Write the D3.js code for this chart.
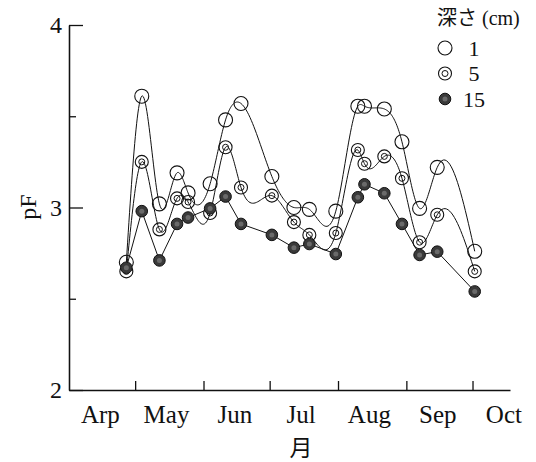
<!DOCTYPE html>
<html>
<head>
<meta charset="utf-8">
<script src="https://cdn.jsdelivr.net/npm/d3@7"></script>
<style>
body { margin: 0; background: #fff; }
text { font-family: "Liberation Serif", "Times New Roman", serif; fill: #111; }
</style>
</head>
<body>
<svg id="chart" width="536" height="462"></svg>
<script>
// 観測日
const dates = ["2000-04-27", "2000-05-04", "2000-05-12", "2000-05-20", "2000-05-25",
    "2000-06-04", "2000-06-11", "2000-06-18", "2000-07-02", "2000-07-12", "2000-07-19",
    "2000-07-31", "2000-08-10", "2000-08-13", "2000-08-22", "2000-08-30", "2000-09-07",
    "2000-09-15", "2000-10-02"];

// 深さ別のpF値
const depth1 = [2.70, 3.61, 3.02, 3.19, 3.08, 3.13, 3.48, 3.57, 3.17, 3.00, 2.99,
    2.98, 3.555, 3.555, 3.54, 3.36, 2.995, 3.22, 2.76];
const depth5 = [2.65, 3.25, 2.88, 3.05, 3.03, 2.97, 3.33, 3.11, 3.065, 2.92, 2.85,
    2.86, 3.315, 3.24, 3.28, 3.16, 2.81, 2.96, 2.65];
const depth15 = [2.67, 2.98, 2.71, 2.91, 2.945, 2.995, 3.06, 2.91, 2.85, 2.78, 2.80,
    2.745, 3.056, 3.127, 3.078, 2.91, 2.74, 2.758, 2.54];

const monthLabels = ["Arp", "May", "Jun", "Jul", "Aug", "Sep", "Oct"];
const yTicks = [2, 3, 4];
const yMinorTicks = [2.5, 3.5];
const legendLabels = ["1", "5", "15"];

const parse = d3.timeParse("%Y-%m-%d");
const start = new Date(2000, 3, 1);

let svg = d3.select("#chart");

let x = d3.scaleTime()
    .domain([start, new Date(2000, 9, 18)])
    .range([69, 510]);

let y = d3.scaleLinear()
    .domain([2, 4])
    .range([390, 25]);

// 自然3次スプライン (y を x の関数として)
function naturalSpline(xs, ys) {
    let n = xs.length;
    let h = [], a = [], b = [], c = [], r = [];
    for (let i = 0; i < n - 1; i++) h.push(xs[i + 1] - xs[i]);
    let M = new Array(n).fill(0);
    // 三重対角
    for (let i = 1; i < n - 1; i++) {
        a[i] = h[i - 1];
        b[i] = 2 * (h[i - 1] + h[i]);
        c[i] = h[i];
        r[i] = 6 * ((ys[i + 1] - ys[i]) / h[i] - (ys[i] - ys[i - 1]) / h[i - 1]);
    }
    for (let i = 2; i < n - 1; i++) {
        let m = a[i] / b[i - 1];
        b[i] -= m * c[i - 1];
        r[i] -= m * r[i - 1];
    }
    for (let i = n - 2; i >= 1; i--) {
        M[i] = (r[i] - (i < n - 2 ? c[i] * M[i + 1] : 0)) / b[i];
    }
    let out = [];
    for (let i = 0; i < n - 1; i++) {
        let steps = 24;
        for (let k = 0; k <= steps; k++) {
            if (i > 0 && k === 0) continue;
            let t = xs[i] + h[i] * k / steps;
            let A = (xs[i + 1] - t) / h[i], B = (t - xs[i]) / h[i];
            let v = A * ys[i] + B * ys[i + 1] +
                ((A * A * A - A) * M[i] + (B * B * B - B) * M[i + 1]) * h[i] * h[i] / 6;
            out.push({day: t, value: v});
        }
    }
    return out;
}

let days = dates.map(function (d) {
    return (parse(d) - start) / 864e5;
});
let dayToDate = function (d) {
    return new Date(start.getTime() + d * 864e5);
};

let line = d3.line()
    .x(function (d) { return x(dayToDate(d.day)); })
    .y(function (d) { return y(d.value); });

// 線
svg.append("path")
    .datum(naturalSpline(days, depth1))
    .attr("fill", "none").attr("stroke", "#111").attr("stroke-width", 1)
    .attr("d", line);
svg.append("path")
    .datum(naturalSpline(days, depth5))
    .attr("fill", "none").attr("stroke", "#111").attr("stroke-width", 1)
    .attr("d", line);
svg.append("path")
    .datum(days.map(function (d, i) { return {day: d, value: depth15[i]}; }))
    .attr("fill", "none").attr("stroke", "#111").attr("stroke-width", 1)
    .attr("d", line);

// マーカー
function drawMarker(g, kind) {
    if (kind === 0) {
        g.append("circle").attr("r", 7).attr("fill", "none")
            .attr("stroke", "#111").attr("stroke-width", 1.1);
    } else if (kind === 1) {
        g.append("circle").attr("r", 6.5).attr("fill", "none")
            .attr("stroke", "#111").attr("stroke-width", 1.1);
        g.append("circle").attr("r", 3).attr("fill", "none")
            .attr("stroke", "#111").attr("stroke-width", 1);
    } else {
        g.append("circle").attr("r", 5.8).attr("fill", "#3a3a3a")
            .attr("stroke", "#111").attr("stroke-width", 1);
        g.append("circle").attr("r", 2.5).attr("fill", "#6a6a6a");
    }
}

[depth1, depth5, depth15].forEach(function (series, k) {
    series.forEach(function (v, i) {
        let g = svg.append("g")
            .attr("transform", "translate(" + x(parse(dates[i])) + "," + y(v) + ")");
        drawMarker(g, k);
    });
});

// y軸
svg.append("g")
    .attr("transform", "translate(69,0)")
    .call(d3.axisRight(y).tickValues(yMinorTicks).tickSize(7).tickSizeOuter(0).tickFormat(""))
    .call(function (g) { g.selectAll("line,path").attr("stroke", "#111").attr("stroke-width", 1.3); });
svg.append("g")
    .attr("transform", "translate(69,0)")
    .call(d3.axisRight(y).tickValues(yTicks).tickSize(14).tickSizeOuter(0).tickFormat(""))
    .call(function (g) { g.selectAll("line,path").attr("stroke", "#111").attr("stroke-width", 1.3); });
svg.append("g")
    .attr("transform", "translate(69,0)")
    .call(d3.axisLeft(y).tickValues(yTicks).tickSize(0).tickPadding(7).tickFormat(d3.format("d")))
    .call(function (g) {
        g.select(".domain").remove();
        g.selectAll("text").attr("font-size", 24).attr("font-family", "Liberation Serif").attr("fill", "#111");
    });

// x軸
let monthStarts = d3.range(4, 10).map(function (m) { return new Date(2000, m, 1); });
let monthMids = d3.range(3, 10).map(function (m) { return new Date(2000, m, 15); });

svg.append("g")
    .attr("transform", "translate(0,390)")
    .call(d3.axisTop(x).tickValues(monthStarts).tickSize(9).tickSizeOuter(0).tickFormat(""))
    .call(function (g) { g.selectAll("line,path").attr("stroke", "#111").attr("stroke-width", 1.3); });
svg.append("g")
    .attr("transform", "translate(0,390)")
    .call(d3.axisBottom(x).tickValues(monthMids).tickSize(0).tickPadding(15)
        .tickFormat(function (d, i) { return monthLabels[i]; }))
    .call(function (g) {
        g.select(".domain").remove();
        g.selectAll("text").attr("font-size", 25).attr("font-family", "Liberation Serif").attr("fill", "#111");
    });

// 軸ラベル
svg.append("text")
    .attr("transform", "translate(36,207) rotate(-90)")
    .attr("text-anchor", "middle")
    .attr("font-size", 24)
    .text("pF");

svg.append("text")
    .attr("x", 301).attr("y", 456)
    .attr("text-anchor", "middle")
    .attr("font-size", 23)
    .style("font-family", "'Noto Sans CJK JP', sans-serif")
    .text("月");

// 凡例
let legendTitle = svg.append("text")
    .attr("x", 437).attr("y", 25)
    .attr("font-size", 20);
legendTitle.append("tspan").style("font-family", "'Noto Sans CJK JP', sans-serif").text("深さ");
legendTitle.append("tspan").text(" (cm)");

legendLabels.forEach(function (lab, i) {
    let ly = 48 + i * 25.5;
    let g = svg.append("g").attr("transform", "translate(445," + ly + ")");
    drawMarker(g, i);
    svg.append("text")
        .attr("x", 474).attr("y", ly + 7.5)
        .attr("text-anchor", "middle")
        .attr("font-size", 22)
        .text(lab);
});
</script>
</body>
</html>
